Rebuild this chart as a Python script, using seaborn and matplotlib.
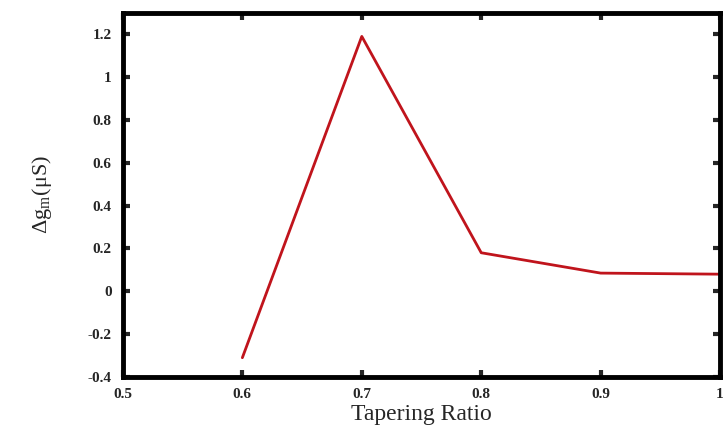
import matplotlib
matplotlib.use('Agg')
import matplotlib.pyplot as plt
import seaborn as sns
import pandas as pd

# values
tapering_ratio = [0.6, 0.7, 0.8, 0.9, 1.0]
delta_gm = [-0.31, 1.19, 0.18, 0.085, 0.08]

x_ticks = [0.5, 0.6, 0.7, 0.8, 0.9, 1.0]
x_tick_labels = ['0.5', '0.6', '0.7', '0.8', '0.9', '1']
y_ticks = [-0.4, -0.2, 0, 0.2, 0.4, 0.6, 0.8, 1.0, 1.2]
y_tick_labels = ['-0.4', '-0.2', '0', '0.2', '0.4', '0.6', '0.8', '1', '1.2']

df = pd.DataFrame({'ratio': tapering_ratio, 'dgm': delta_gm})

sns.set_style('ticks')
plt.rcParams['font.family'] = ['Liberation Serif', 'DejaVu Serif']
plt.rcParams['mathtext.fontset'] = 'stix'

fig = plt.figure(figsize=(7.23, 4.43), dpi=100)
ax = fig.add_axes([0.170, 0.149, 0.826, 0.822])

sns.lineplot(data=df, x='ratio', y='dgm', color='#c0141c', linewidth=2, ax=ax)

ax.set_xlim(0.5, 1.0)
ax.set_ylim(-0.4, 1.3)
ax.set_xticks(x_ticks)
ax.set_xticklabels(x_tick_labels)
ax.set_yticks(y_ticks)
ax.set_yticklabels(y_tick_labels)

for s in ax.spines.values():
    s.set_linewidth(3.5)
    s.set_color('black')

ax.tick_params(direction='in', length=5, width=3, top=True, right=True,
               labelsize=11, pad=8)
for lab in ax.get_xticklabels() + ax.get_yticklabels():
    lab.set_fontweight('bold')

ax.set_xlabel('Tapering Ratio', fontsize=17, labelpad=2)
ax.set_ylabel('Δg$_\\mathregular{m}$(μS)', fontsize=16, labelpad=24)

fig.savefig('out.png', dpi=100)
